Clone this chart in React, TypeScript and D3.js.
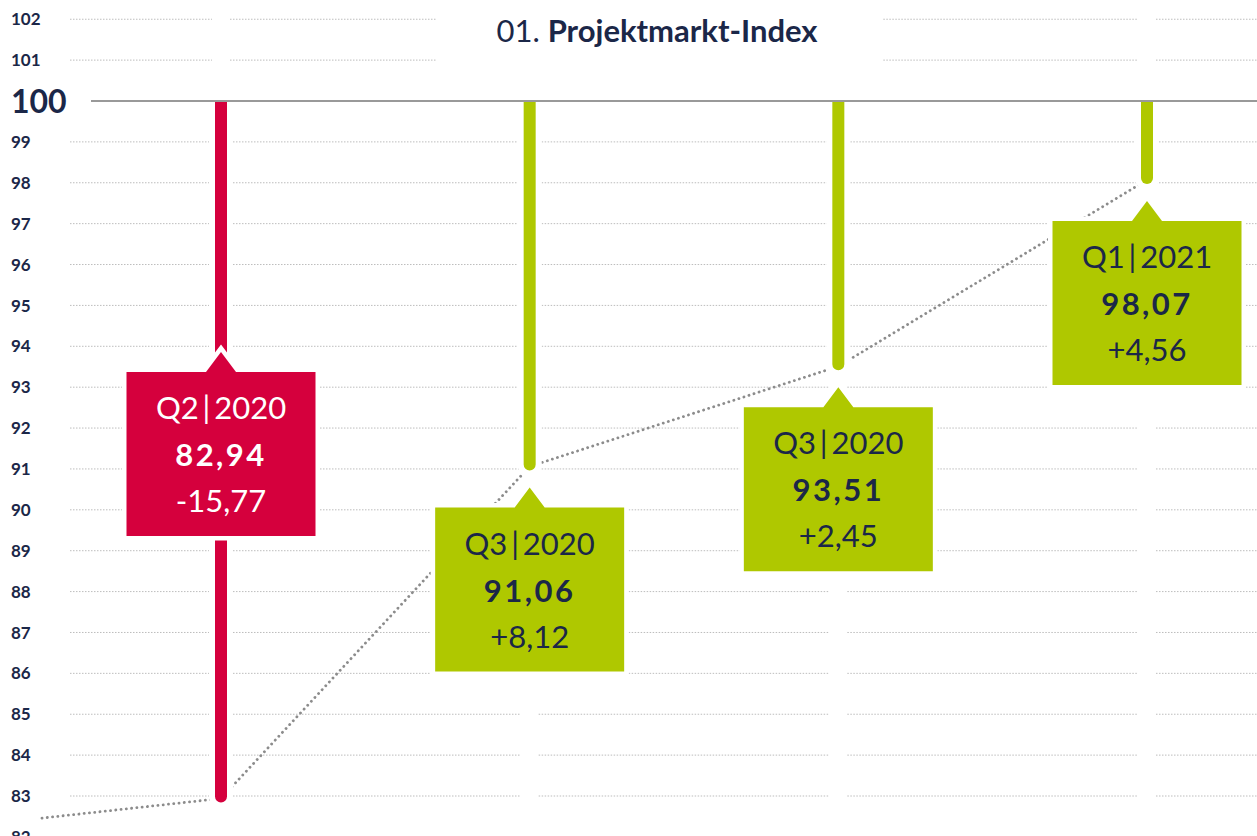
import React from "react";
import * as d3 from "d3";

// ---- data ----
const quarters = ["Q2\u2009|\u20092020", "Q3\u2009|\u20092020", "Q3\u2009|\u20092020", "Q1\u2009|\u20092021"];
const indexValues = [82.94, 91.06, 93.51, 98.07];
const changes = ["-15,77", "+8,12", "+2,45", "+4,56"];
const valueLabels = ["82,94", "91,06", "93,51", "98,07"];
const leadIn = { pos: -0.58, value: 82.46 };
const yTicks = d3.range(82, 103);
const baseline = 100;
const titleNumber = "01. ";
const titleText = "Projektmarkt-Index";

const W = 1257;
const H = 836;
const RED = "#d5003d";
const GREEN = "#afc800";
const NAVY = "#1b2748";
const GRID = "#bdbdbd";

export default function App() {
  const y = d3.scaleLinear().domain([100, 83]).range([101, 796]);
  const x = d3.scaleLinear().domain([0, 3]).range([221, 1147]);

  const barW = 12;
  const gridGap = 9;
  const boxW = 189;
  const boxH = 164;
  const triHalf = 15;
  const triH = 20;

  const gridStart = 70;
  const xs = indexValues.map((_, i) => x(i));
  const segBreaks: [number, number][] = [];
  let cur = gridStart;
  xs.forEach((bx) => {
    segBreaks.push([cur, bx - gridGap]);
    cur = bx + gridGap;
  });
  segBreaks.push([cur, W]);

  const linePts: [number, number][] = [
    [x(leadIn.pos), y(leadIn.value)],
    ...indexValues.map((v, i) => [x(i), y(v)] as [number, number]),
  ];
  const lineGen = d3.line();

  const barPath = (i: number) => {
    const bx = x(i);
    const y0 = y(baseline);
    const y1 = y(indexValues[i]) - 2;
    const r = barW / 2;
    return `M${bx - r},${y0} L${bx - r},${y1} A${r},${r} 0 0 0 ${bx + r},${y1} L${bx + r},${y0} Z`;
  };

  const boxTip = (i: number) => {
    const ch = indexValues[i] - (i === 0 ? 98.71 : indexValues[i - 1]);
    return ch < 0 ? y(93.86) : y(indexValues[i]) + 21;
  };
  const boxPath = (i: number) => {
    const bx = x(i);
    const tip = boxTip(i);
    const top = tip + triH;
    const l = bx - boxW / 2;
    const r = bx + boxW / 2;
    return `M${l},${top} L${bx - triHalf},${top} L${bx},${tip} L${bx + triHalf},${top} L${r},${top} L${r},${top + boxH} L${l},${top + boxH} Z`;
  };

  const font = "Lato, 'Open Sans', sans-serif";

  return (
    <svg
      width={W}
      height={H}
      style={{ position: "absolute", left: 0, top: 0, background: "#fff" }}
    >
      {yTicks
        .filter((t) => t !== baseline)
        .map((t) => (
          <g key={t}>
            {segBreaks.map(([a, b], k) => (
              <line
                key={k}
                x1={a}
                x2={b}
                y1={y(t)}
                y2={y(t)}
                stroke={GRID}
                strokeWidth={1}
                strokeDasharray="1.5 1.5"
              />
            ))}
          </g>
        ))}

      <rect x={437} y={0} width={445} height={78} fill="#fff" />
      <text
        x={657}
        y={42}
        textAnchor="middle"
        fontFamily={font}
        fontSize={31}
        fill={NAVY}
      >
        <tspan>{titleNumber}</tspan>
        <tspan fontWeight="bold">{titleText}</tspan>
      </text>

      <path
        d={lineGen(linePts) || ""}
        fill="none"
        stroke="#8c8c8c"
        strokeWidth={2.8}
        strokeLinecap="round"
        strokeDasharray="0.1 5.2"
      />

      {indexValues.map((v, i) => (
        <path key={i} d={barPath(i)} fill="#fff" stroke="#fff" strokeWidth={12} />
      ))}
      {indexValues.map((v, i) => (
        <path key={i} d={barPath(i)} fill={i === 0 ? RED : GREEN} />
      ))}

      <line x1={91} x2={W} y1={y(baseline)} y2={y(baseline)} stroke="#999" strokeWidth={2} />

      {indexValues.map((v, i) => {
        const bx = x(i);
        const top = boxTip(i) + triH;
        const col = i === 0 ? RED : GREEN;
        const tcol = i === 0 ? "#fff" : NAVY;
        return (
          <g key={i}>
            <path d={boxPath(i)} fill="#fff" stroke="#fff" strokeWidth={9} />
            <path d={boxPath(i)} fill={col} />
            <text
              x={bx}
              y={top + 36}
              dy="0.36em"
              textAnchor="middle"
              fontFamily={font}
              fontSize={31}
              fill={tcol}
            >
              {quarters[i]}
            </text>
            <text
              x={bx}
              y={top + 83}
              dy="0.36em"
              textAnchor="middle"
              fontFamily={font}
              fontSize={31}
              fontWeight="bold"
              letterSpacing={2.5}
              fill={tcol}
            >
              {valueLabels[i]}
            </text>
            <text
              x={bx}
              y={top + 129}
              dy="0.36em"
              textAnchor="middle"
              fontFamily={font}
              fontSize={31}
              fill={tcol}
            >
              {changes[i]}
            </text>
          </g>
        );
      })}

      {yTicks.map((t) => (
        <text
          key={t}
          x={11}
          y={y(t)}
          dy="0.36em"
          fontFamily={font}
          fontWeight="bold"
          fontSize={t === baseline ? 32 : 17}
          fill={NAVY}
        >
          {t}
        </text>
      ))}
    </svg>
  );
}
